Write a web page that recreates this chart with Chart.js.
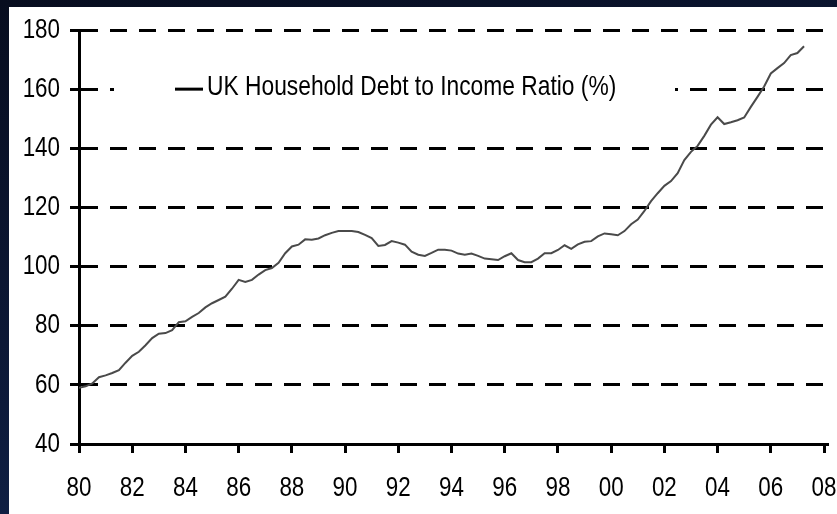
<!DOCTYPE html>
<html>
<head>
<meta charset="utf-8">
<script src="https://cdn.jsdelivr.net/npm/chart.js@4.4.1/dist/chart.umd.min.js"></script>
<style>
  html, body { margin: 0; padding: 0; }
  body { width: 837px; height: 514px; overflow: hidden;
         background: linear-gradient(165deg, #070d1f 0%, #0d1a3a 55%, #142a56 100%); position: relative; }
  #wrap { position: absolute; left: 9px; top: 7px; width: 828px; height: 507px; background: #fff; }
  canvas { display: block; }
</style>
</head>
<body>
<div id="wrap"><canvas id="c" width="828" height="507"></canvas></div>
<script>
// Quarterly observations, 1980 Q1 onwards
const seriesLabel = 'UK Household Debt to Income Ratio (%)';
const startYear = 1980;
const ratioValues = [
  59, 59.5, 60.5, 62.6, 63.2, 64, 65, 67.5, 69.8, 71.2,
  73.4, 75.8, 77.3, 77.5, 78.5, 81.2, 81.5, 83, 84.3, 86.2,
  87.6, 88.7, 89.8, 92.5, 95.5, 94.8, 95.5, 97.3, 98.8, 99.5,
  101.3, 104.5, 106.8, 107.4, 109.2, 109.1, 109.5, 110.6, 111.4, 112,
  112, 112, 111.7, 110.7, 109.6, 107, 107.3, 108.6, 108.1, 107.4,
  105, 104, 103.6, 104.6, 105.7, 105.7, 105.4, 104.4, 104, 104.4,
  103.6, 102.7, 102.5, 102.2, 103.5, 104.5, 102.2, 101.5, 101.5, 102.7,
  104.5, 104.5, 105.6, 107.2, 106, 107.5, 108.4, 108.6, 110.2, 111.2,
  110.9, 110.6, 112, 114.3, 115.9, 118.8, 122.1, 124.8, 127.3, 128.9,
  131.6, 136, 138.8, 140.8, 144.2, 148, 150.5, 148.2, 148.8, 149.5,
  150.4, 154, 157.4, 160.9, 165.3, 167.1, 168.8, 171.5, 172.2, 174.5
];
const xTickYears = [1980,1982,1984,1986,1988,1990,1992,1994,1996,1998,2000,2002,2004,2006,2008];
const yTickValues = [40,60,80,100,120,140,160,180];

const points = ratioValues.map((v, i) => ({ x: startYear + i / 4, y: v }));

const FONT = "'Liberation Sans', Arial, sans-serif";
const CONDENSE = 0.8;

const canvas = document.getElementById('c');
const ctx2d = canvas.getContext('2d');
// Narrow-face emulation: draw all text horizontally condensed around its anchor
const origFillText = ctx2d.fillText.bind(ctx2d);
ctx2d.fillText = function (text, x, y, maxWidth) {
  this.save();
  this.translate(x, y);
  this.scale(CONDENSE, 1);
  if (maxWidth !== undefined) origFillText(text, 0, 0, maxWidth / CONDENSE);
  else origFillText(text, 0, 0);
  this.restore();
};

const legendInside = {
  id: 'legendInside',
  afterDatasetsDraw(chart) {
    const ctx = chart.ctx;
    const area = chart.chartArea;
    const yLine = chart.scales.y.getPixelForValue(160);
    const x0 = area.left + 35, x1 = area.left + 596;
    ctx.save();
    ctx.fillStyle = '#ffffff';
    ctx.fillRect(x0, yLine - 16, x1 - x0, 32);
    ctx.strokeStyle = '#000';
    ctx.lineWidth = 3;
    ctx.beginPath();
    ctx.moveTo(area.left + 96, yLine);
    ctx.lineTo(area.left + 124, yLine);
    ctx.stroke();
    ctx.fillStyle = '#000';
    ctx.font = '28.5px ' + FONT;
    ctx.textBaseline = 'middle';
    ctx.textAlign = 'left';
    ctx.fillText(chart.data.datasets[0].label, area.left + 128, yLine - 2);
    ctx.restore();
  }
};

new Chart(canvas, {
  type: 'line',
  data: {
    datasets: [{
      label: seriesLabel,
      data: points,
      borderColor: '#4a4a4a',
      borderWidth: 2,
      pointRadius: 0,
      tension: 0,
      fill: false
    }]
  },
  options: {
    responsive: false,
    animation: false,
    events: [],
    layout: { padding: { top: 23, right: 0, left: 0, bottom: 0 } },
    plugins: { legend: { display: false }, tooltip: { enabled: false } },
    scales: {
      x: {
        type: 'linear',
        min: 1980,
        max: 2008.15,
        afterBuildTicks: (s) => { s.ticks = xTickYears.map(v => ({ value: v })); },
        afterFit: (s) => { s.height = 70; s.paddingRight = 9; s.paddingLeft = 0; },
        ticks: {
          color: '#000',
          font: { family: FONT, size: 28 },
          padding: 18,
          maxRotation: 0,
          autoSkip: false,
          callback: (v) => String(v % 100).padStart(2, '0')
        },
        grid: {
          drawOnChartArea: false,
          drawTicks: true,
          tickLength: 9,
          tickWidth: 3,
          tickColor: '#000'
        },
        border: { display: true, color: '#000', width: 3 }
      },
      y: {
        min: 40,
        max: 180,
        afterBuildTicks: (s) => { s.ticks = yTickValues.map(v => ({ value: v })); },
        afterFit: (s) => { s.width = 70; s.paddingTop = 0; s.paddingBottom = 0; },
        ticks: {
          color: '#000',
          font: { family: FONT, size: 28 },
          padding: 10
        },
        grid: {
          color: '#000',
          lineWidth: 3,
          drawTicks: true,
          tickLength: 9,
          tickWidth: 3,
          tickColor: '#000',
          tickBorderDash: []
        },
        border: { display: true, color: '#000', width: 3, dash: [17, 12] }
      }
    }
  },
  plugins: [legendInside]
});
</script>
</body>
</html>
